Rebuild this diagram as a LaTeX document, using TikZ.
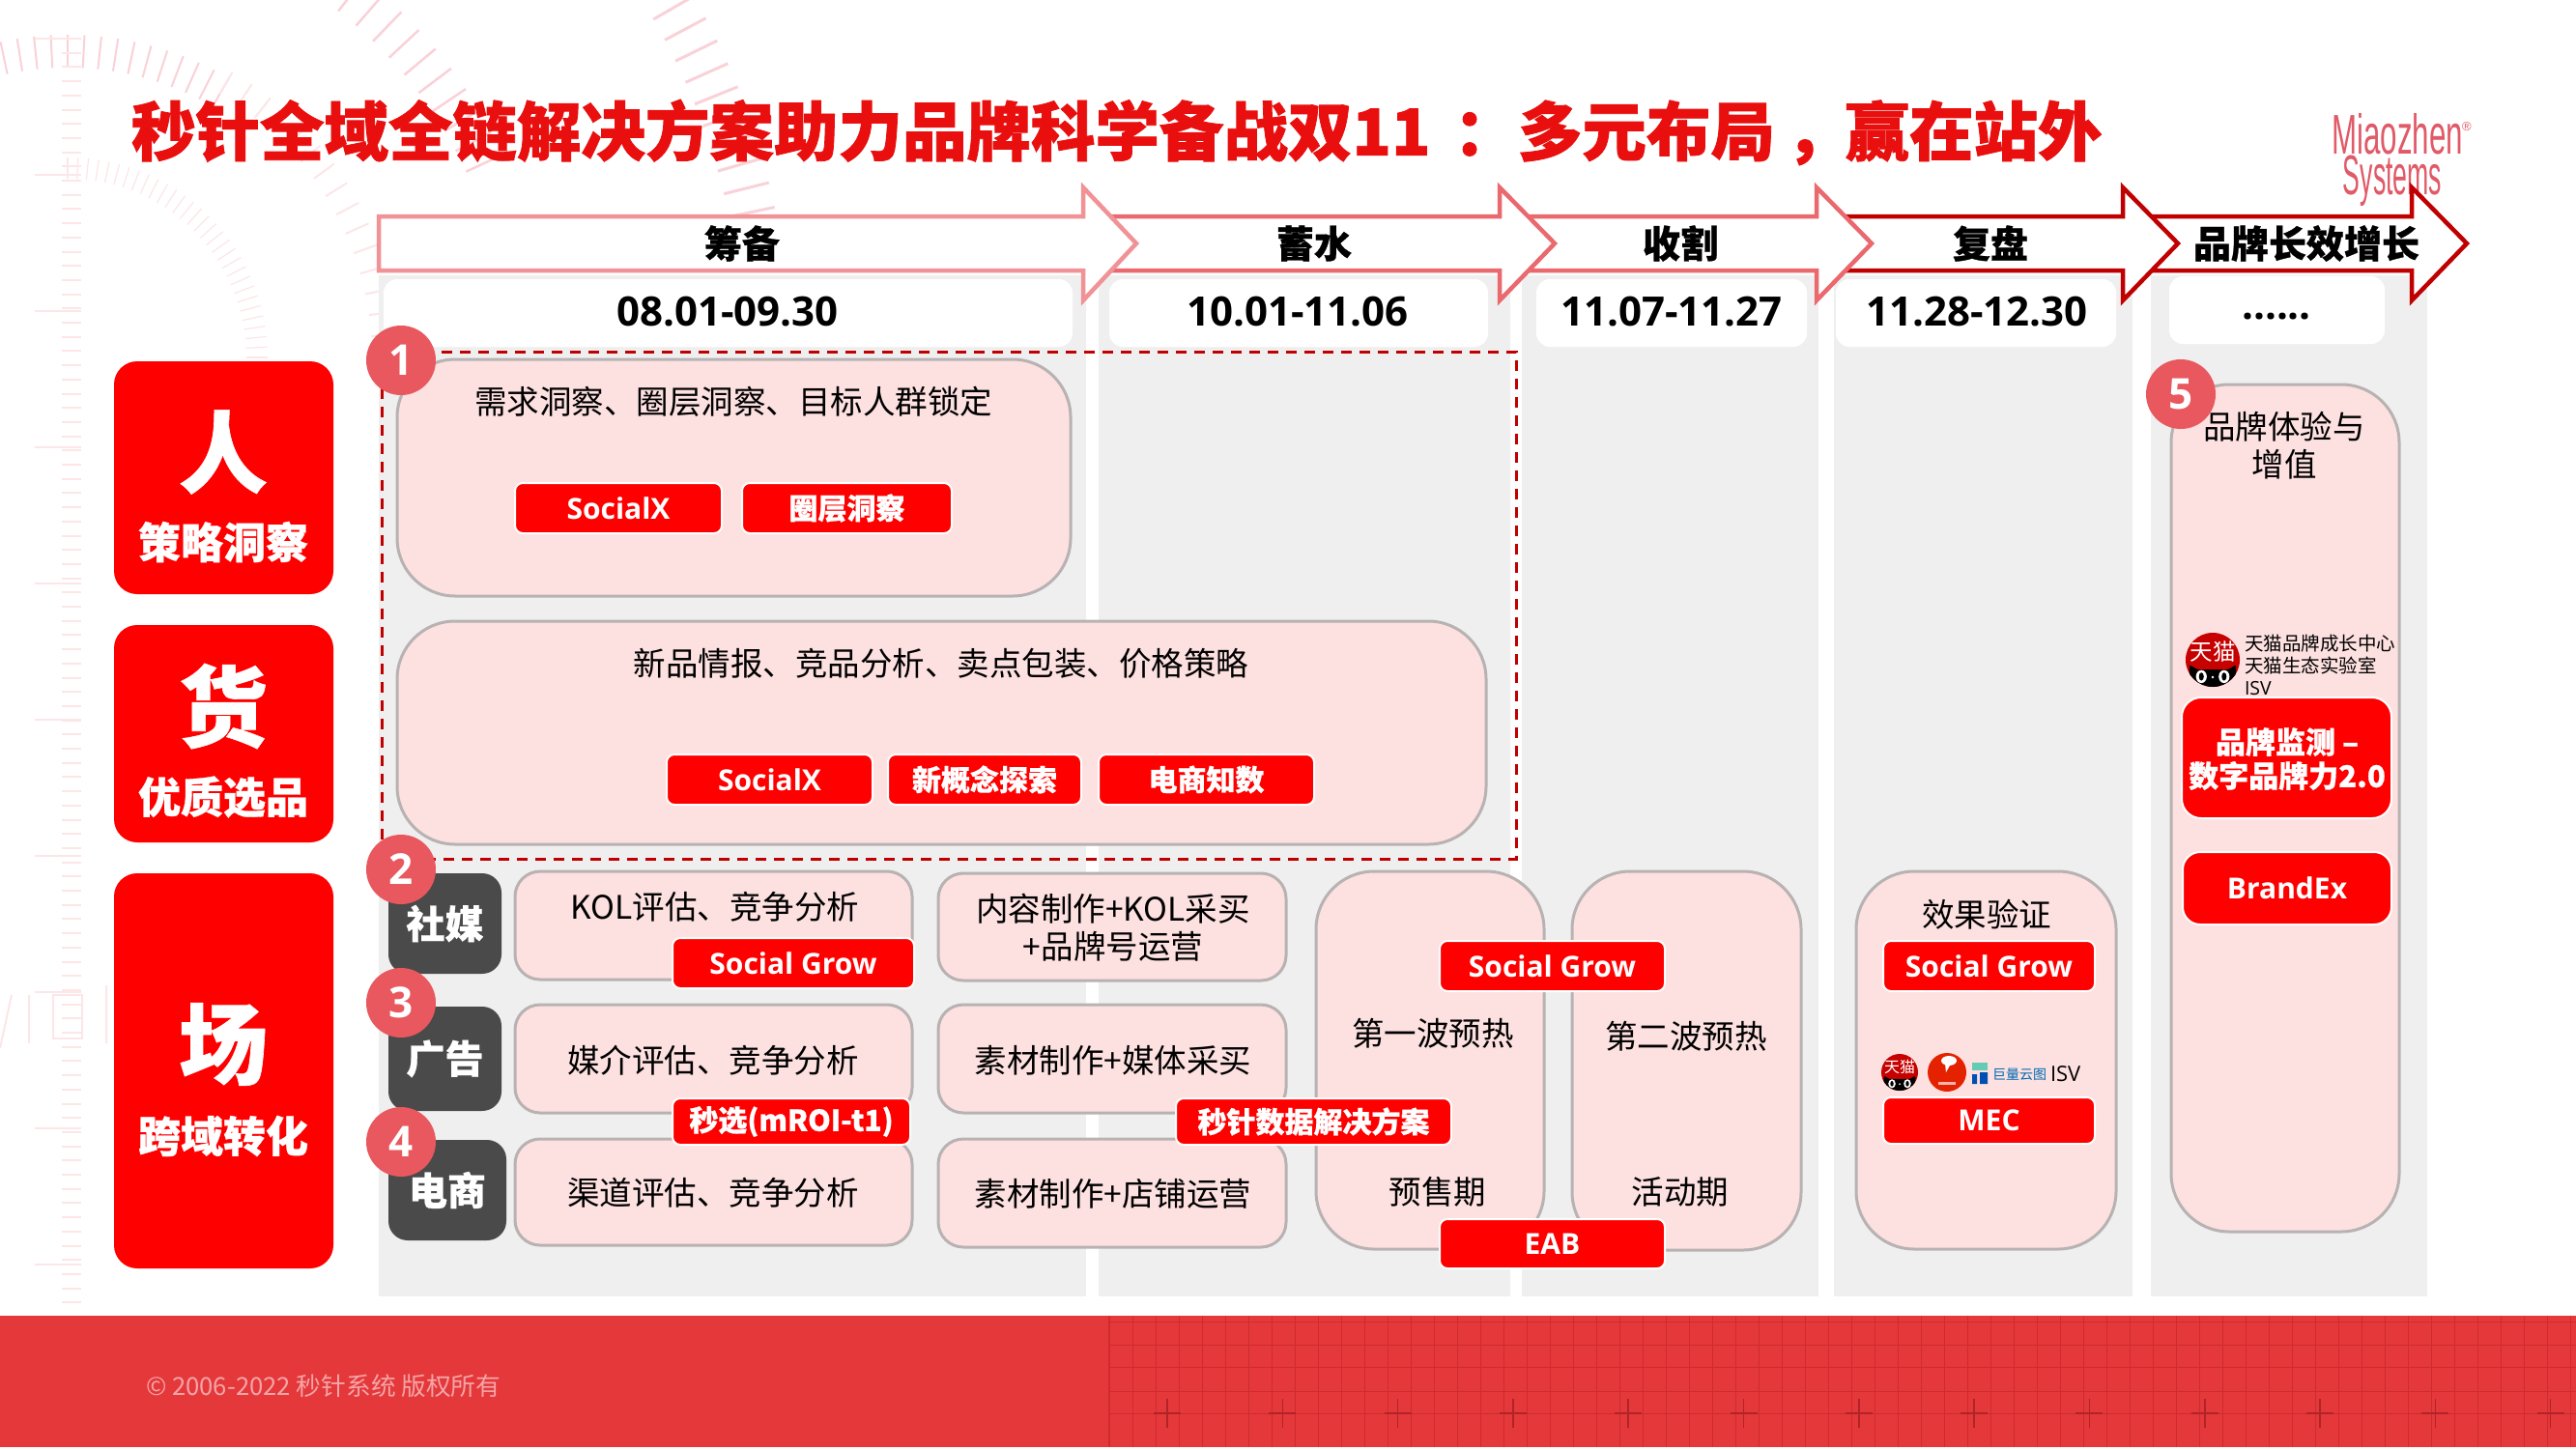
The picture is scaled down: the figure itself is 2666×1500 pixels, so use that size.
\documentclass[tikz,border=0pt]{standalone}
\usepackage{fontspec}
\setmainfont{Noto Sans CJK SC}
\newfontfamily\heavy[BoldFeatures={FakeBold=.7}]{Noto Sans CJK SC}
\newfontfamily\ttlheavy[BoldFeatures={FakeBold=1.2}]{Noto Sans CJK SC}
\newfontfamily\lat{Open Sans}
\newfontfamily\logofont{Liberation Sans}
\definecolor{rd}{HTML}{FF0000}
\definecolor{ttl}{HTML}{E90F0F}
\definecolor{pk}{HTML}{FDE0E0}
\definecolor{pkl}{HTML}{B8B2B2}
\definecolor{gy}{HTML}{EFEFEF}
\definecolor{dk}{HTML}{4A4A4A}
\definecolor{circ}{HTML}{E8585E}
\definecolor{drk}{HTML}{C00000}
\definecolor{foot}{HTML}{E5383B}
\definecolor{footl}{HTML}{CF2B2E}
\definecolor{tick}{HTML}{F9D2D8}
\definecolor{tickl}{HTML}{FCE6E8}
\definecolor{logoc}{HTML}{E05A68}
\newcommand\fsz[1]{\fontsize{#1}{#1}\selectfont}
\newcommand\bx[7]{%
  \pgfmathsetmacro\bw{#5-#3}\pgfmathsetmacro\bh{#6-#4}%
  \pgfmathsetmacro\bcx{(#3+#5)/2}\pgfmathsetmacro\bcy{(#4+#6)/2}%
  \node[#1,minimum width=\bw pt,minimum height=\bh pt] (#2) at (\bcx,\bcy) {#7};}
\newcommand\tmall[4]{%
  \pgfmathsetmacro\tms{#4*.84}%
  \pgfmathsetmacro\tmd{#4*2}%
  \begin{scope}[shift={(#2,#3)}]
    \node[circle,fill=red!78!black,minimum size=\tmd pt,inner sep=0pt] (#1) at (0,0) {};
    \begin{scope}
      \clip (0,0) circle (#4);
      \fill[black] (-#4*.85,#4*.2) -- (-#4*.55,#4*.36) -- (#4*.55,#4*.36) -- (#4*.85,#4*.2) -- (#4*.9,#4*1.1) -- (-#4*.9,#4*1.1) -- cycle;
    \end{scope}
    \node[white,inner sep=0pt,font=\fontsize{\tms}{\tms}\selectfont] (#1t) at (0,-#4*.32) {天猫};
    \fill[white] (-#4*.42,#4*.62) ellipse (#4*.2 and #4*.24) (#4*.42,#4*.62) ellipse (#4*.2 and #4*.24);
    \fill[black] (-#4*.42,#4*.62) ellipse (#4*.09 and #4*.15) (#4*.42,#4*.62) ellipse (#4*.09 and #4*.15);
    \fill[white] (0,#4*.64) circle (#4*.05);
  \end{scope}}
\tikzset{
  x=1pt,y=-1pt,
  lbl/.style={inner sep=0pt,outer sep=0pt,text=black,align=center},
  t34/.style={lbl,font=\fsz{33.5}},
  grey col/.style={fill=gy,draw=none,inner sep=0pt},
  datebox/.style={fill=white,draw=none,rounded corners=14pt,inner sep=0pt},
  datetxt/.style={lbl,font=\lat\bfseries\fsz{42}},
  arrtxt/.style={lbl,font=\heavy\bfseries\fsz{39}},
  redbig/.style={fill=rd,draw=none,rounded corners=24pt,inner sep=0pt},
  bigch/.style={lbl,text=white,font=\heavy\bfseries\fsz{92}},
  subch/.style={lbl,text=white,font=\heavy\bfseries\fsz{44}},
  pinkbig/.style={fill=pk,draw=pkl,line width=3pt,rounded corners=60pt,inner sep=0pt},
  pinksm/.style={fill=pk,draw=pkl,line width=3pt,rounded corners=26pt,inner sep=0pt},
  btn/.style={fill=rd,draw=white,line width=2pt,rounded corners=8pt,inner sep=0pt,text=white,align=center,font=\heavy\bfseries\fsz{30}},
  btnl/.style={btn,font=\lat\bfseries\fsz{30}},
  dkbox/.style={fill=dk,draw=none,rounded corners=20pt,inner sep=0pt,text=white,font=\heavy\bfseries\fsz{40}},
  numc/.style={circle,fill=circ,draw=none,minimum size=72pt,inner sep=0pt,text=white,font=\lat\bfseries\fsz{44}},
  arrbody/.style={fill=white,line width=4.5pt,miter limit=10},
  faint/.style={draw=tick,line width=2pt},
}
\begin{document}
\begin{tikzpicture}
\useasboundingbox (0,0) rectangle (2666,1500);
\fill[white] (0,0) rectangle (2666,1500);
% background ornaments
\begin{scope}
 \clip (0,0) rectangle (2666,1360);
 \foreach \a in {-90,-87,...,60}{\draw[draw=tickl,line width=1.2pt] (70,370)++(\a:185) -- ++(\a:22);}
 \foreach \a in {-120,-117,...,-60}{\draw[faint,line width=2pt] (70,370)++(\a:300) -- ++(\a:34);}
 \foreach \a in {-60,-56,...,0}{\draw[draw=tickl,line width=2pt] (70,370)++(\a:315) -- ++(\a:26);}
 \foreach \a in {-58,-55,...,-24}{\draw[faint,line width=2.5pt] (70,370)++(\a:455) -- ++(\a:42);}
 \foreach \a in {-80,-78,...,-10}{\draw[faint,line width=3pt] (70,370)++(\a:700) -- ++(\a:48);}
 \foreach \y in {40,181,322,463,604,745,886,1027,1168,1309}{\draw[draw=tickl,line width=2pt] (36,\y) -- (84,\y);}
 \foreach \i in {0,...,90}{\draw[draw=tickl,line width=2pt] (64,{40+14.7*\i}) -- (84,{40+14.7*\i});}
 \draw[draw=tickl,line width=2pt] (55,1030) rectangle (85,1075);
 \draw[draw=tickl,line width=2pt] (30,1030) -- (30,1080) (12,1030) -- (0,1085) (110,1020) -- (110,1080);
\end{scope}
% footer
\node[fill=foot,draw=none,minimum width=2666pt,minimum height=136pt,inner sep=0pt] (footer) at (1333,1430) {};
\foreach \i in {0,...,63}{\draw[footl,line width=.8pt] ({1148+24*\i},1362) -- ({1148+24*\i},1498);}
\draw[footl,line width=2pt] (1148,1362) -- (1148,1498);
\foreach \y in {1368,1392,1415,1440,1463}{\draw[footl,line width=.8pt] (1148,\y) -- (2666,\y);}
\foreach \i in {0,...,12}{\draw[footl!85!black,line width=1.6pt] ({1208+119.3*\i},1448) -- ({1208+119.3*\i},1478) ({1194+119.3*\i},1463) -- ({1222+119.3*\i},1463);}
\node[lbl,text=foot!45!white,anchor=west,font=\fsz{25.7}] (copy) at (151,1435) {© 2006-2022 秒针系统 版权所有};
% grey columns
\bx{grey col}{c1}{392}{285}{1124}{1342}{}
\bx{grey col}{c2}{1137}{285}{1563}{1342}{}
\bx{grey col}{c3}{1575}{285}{1882}{1342}{}
\bx{grey col}{c4}{1898}{285}{2207}{1342}{}
\bx{grey col}{c5}{2226}{285}{2512}{1342}{}
% date boxes
\bx{datebox}{d1}{397}{289}{1110}{359}{}
\bx{datebox}{d2}{1148}{289}{1540}{359}{}
\bx{datebox}{d3}{1590}{289}{1870}{359}{}
\bx{datebox}{d4}{1900}{289}{2190}{359}{}
\bx{datebox}{d5}{2245}{286}{2468}{356}{}
\node[datetxt] (dt1) at (753,323) {08.01-09.30};
\node[datetxt] (dt2) at (1343,323) {10.01-11.06};
\node[datetxt] (dt3) at (1730,323) {11.07-11.27};
\node[datetxt] (dt4) at (2046,323) {11.28-12.30};
\node[datetxt] (dt5) at (2356,328) {......};
% logo
\node[lbl,text=logoc,font=\logofont\fsz{58},xscale=.54] (logo1) at (2481,139) {Miaozhen};
\node[lbl,text=logoc,font=\logofont\fsz{58},xscale=.46] (logo2) at (2476,187) {Systems};
\node[lbl,text=logoc,font=\logofont\fsz{13}] (logo3) at (2553,131) {®};
% arrows
\draw[arrbody,draw=drk] (2210,224) -- (2496,224) -- (2496,194) -- (2553,252) -- (2496,311) -- (2496,280) -- (2210,280) -- cycle;
\draw[arrbody,draw=drk] (1895,224) -- (2197,224) -- (2197,194) -- (2254,252) -- (2197,311) -- (2197,280) -- (1895,280) -- cycle;
\draw[arrbody,draw=circ!90!white] (1565,224) -- (1880,224) -- (1880,194) -- (1937,252) -- (1880,311) -- (1880,280) -- (1565,280) -- cycle;
\draw[arrbody,draw=circ!90!white] (1135,224) -- (1552,224) -- (1552,194) -- (1609,252) -- (1552,311) -- (1552,280) -- (1135,280) -- cycle;
\draw[arrbody,draw=circ!65!white] (392,224) -- (1121,224) -- (1121,194) -- (1176,252) -- (1121,311) -- (1121,280) -- (392,280) -- cycle;
\node[arrtxt] (a1) at (768,252) {筹备};
\node[arrtxt] (a2) at (1360,252) {蓄水};
\node[arrtxt] (a3) at (1739,252) {收割};
\node[arrtxt] (a4) at (2060,252) {复盘};
\node[arrtxt] (a5) at (2387,252) {品牌长效增长};
% title
\node[lbl,text=ttl,anchor=west,font=\ttlheavy\bfseries\fsz{66.5}] (title) at (136,137) {秒针全域全链解决方案助力品牌科学备战双11\hspace{24pt}：多元布局\hspace{11pt}，\hspace{-5pt}赢在站外};
% left red boxes
\bx{redbig}{ren}{118}{374}{345}{615}{}
\bx{redbig}{huo}{118}{647}{345}{872}{}
\bx{redbig}{chang}{118}{904}{345}{1313}{}
\node[bigch] (ren1) at (231,468) {人};
\node[subch] (ren2) at (231,561) {策略洞察};
\node[bigch] (huo1) at (231,731) {货};
\node[subch] (huo2) at (231,825) {优质选品};
\node[bigch] (cha1) at (231,1081) {场};
\node[subch] (cha2) at (231,1176) {跨域转化};
% dashed frame
\draw[drk,line width=3pt,dash pattern=on 11pt off 8pt] (395,364) rectangle (1569,889);
% pink large
\bx{pinkbig}{pa}{411}{372}{1108}{617}{}
\bx{pinkbig}{pb}{411}{643}{1538}{874}{}
\node[t34] (pat) at (759,416) {需求洞察、圈层洞察、目标人群锁定};
\node[t34] (pbt) at (974,687) {新品情报、竞品分析、卖点包装、价格策略};
\bx{btnl}{b1}{533}{500}{747}{552}{SocialX}
\bx{btn}{b2}{768}{500}{985}{552}{圈层洞察}
\bx{btnl}{b3}{690}{781}{903}{833}{SocialX}
\bx{btn}{b4}{919}{781}{1119}{833}{新概念探索}
\bx{btn}{b5}{1137}{781}{1360}{833}{电商知数}
% dark boxes
\bx{dkbox}{g1}{402}{904}{519}{1008}{社媒}
\bx{dkbox}{g2}{402}{1042}{519}{1150}{广告}
\bx{dkbox}{g3}{402}{1180}{524}{1284}{电商}
% rows
\bx{pinksm}{r11}{533}{902}{944}{1014}{}
\bx{pinksm}{r12}{971}{904}{1331}{1015}{}
\bx{pinksm}{r21}{533}{1040}{944}{1152}{}
\bx{pinksm}{r22}{971}{1040}{1331}{1152}{}
\bx{pinksm}{r31}{533}{1179}{944}{1289}{}
\bx{pinksm}{r32}{971}{1179}{1331}{1291}{}
\node[t34] (t11) at (740,939) {KOL评估、竞争分析};
\node[t34] (t21) at (738,1098) {媒介评估、竞争分析};
\node[t34] (t31) at (738,1235) {渠道评估、竞争分析};
\node[t34] (t12) at (1152,941) {内容制作+KOL采买};
\node[t34] (t12b) at (1152,980) {+品牌号运营};
\node[t34] (t22) at (1152,1098) {素材制作+媒体采买};
\node[t34] (t32) at (1152,1236) {素材制作+店铺运营};
% tall boxes
\bx{pinkbig}{w1}{1362}{902}{1598}{1293}{}
\bx{pinkbig}{w2}{1627}{902}{1864}{1294}{}
\bx{pinkbig}{w3}{1921}{902}{2190}{1293}{}
\bx{pinkbig}{w4}{2247}{398}{2483}{1275}{}
\node[t34] (w1a) at (1483,1070) {第一波预热};
\node[t34] (w2a) at (1745,1073) {第二波预热};
\node[t34] (w1b) at (1488,1234) {预售期};
\node[t34] (w2b) at (1739,1234) {活动期};
\node[t34] (w3a) at (2056,947) {效果验证};
\node[t34] (w4a) at (2364,442) {品牌体验与};
\node[t34] (w4b) at (2364,481) {增值};
% buttons
\bx{btnl}{s1}{696}{971}{946}{1023}{Social Grow}
\bx{btn}{s2}{696}{1137}{942}{1185}{秒选(mROI-t1)}
\bx{btn}{s3}{1217}{1137}{1502}{1185}{秒针数据解决方案}
\bx{btnl}{s4}{1490}{974}{1723}{1026}{Social Grow}
\bx{btnl}{s5}{1490}{1262}{1723}{1313}{EAB}
\bx{btnl}{s6}{1949}{974}{2168}{1026}{Social Grow}
\bx{btnl}{s7}{1949}{1136}{2168}{1184}{MEC}
% small logos
\tmall{tm1}{1966}{1110}{19}
\node[circle,fill=orange!30!red!90!black,minimum size=40pt,inner sep=0pt] (jd) at (2015,1110) {};
\fill[white] (2017,1098) ellipse (8 and 5);
\fill[white] (2013,1101) -- (2019,1101) -- (2014,1110) -- cycle;
\fill[white!70!red] (2006,1120) rectangle (2024,1123);
\fill[cyan!45!green!60!white] (2041,1100) rectangle (2057,1108);
\fill[blue!55!cyan!70!black] (2041,1112) rectangle (2046,1122) (2049,1110) rectangle (2057,1122);
\node[lbl,text=blue!40!cyan!70!black,anchor=west,font=\fsz{14}] (jl) at (2062,1112) {巨量云图};
\node[lbl,anchor=west,font=\lat\fsz{22}] (isv1) at (2122,1112) {ISV};
\tmall{tm2}{2290}{683}{28}
\node[lbl,anchor=west,font=\fsz{19.5}] (tx1) at (2323,666) {天猫品牌成长中心};
\node[lbl,anchor=west,font=\fsz{19.5}] (tx2) at (2323,689) {天猫生态实验室};
\node[lbl,anchor=west,font=\lat\fsz{19.5}] (tx3) at (2323,713) {ISV};
\bx{btn,rounded corners=20pt}{bm}{2258}{722}{2475}{847}{}
\node[lbl,text=white,font=\heavy\bfseries\fsz{31}] (bm1) at (2367,768) {品牌监测 –};
\node[lbl,text=white,font=\heavy\bfseries\fsz{31}] (bm2) at (2367,803) {数字品牌力2.0};
\bx{btnl,rounded corners=18pt}{be}{2259}{882}{2475}{957}{BrandEx}
% numbers
\node[numc] (n1) at (415,373) {1};
\node[numc] (n2) at (415,900) {2};
\node[numc] (n3) at (415,1038) {3};
\node[numc] (n4) at (415,1182) {4};
\node[numc] (n5) at (2257,408) {5};
\end{tikzpicture}
\end{document}
